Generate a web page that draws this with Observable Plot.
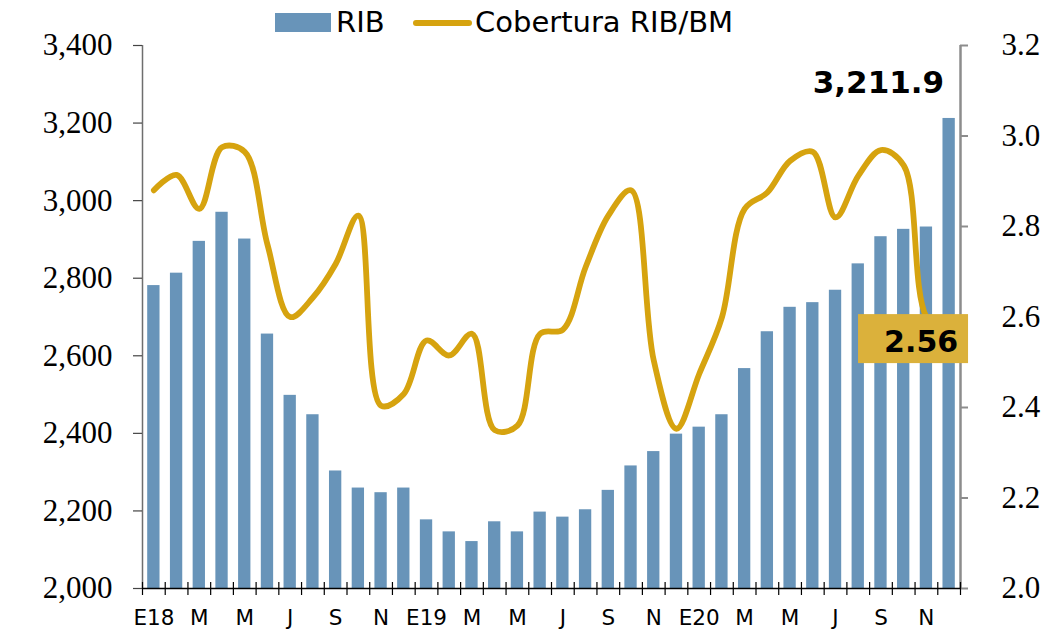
<!DOCTYPE html>
<html><head><meta charset="utf-8">
<script src="https://cdn.jsdelivr.net/npm/d3@7"></script>
<script src="https://cdn.jsdelivr.net/npm/@observablehq/plot@0.6"></script>
<style>
body{margin:0;background:#fff;}
#wrap{position:relative;width:1063px;height:631px;overflow:hidden;}
#legend{position:absolute;top:0;left:0;width:1063px;height:45px;font-family:"DejaVu Sans";font-size:29px;color:#000;}
.sw{position:absolute;}
.lt{position:absolute;top:5px;line-height:34px;white-space:nowrap;}
#chart text.serif, #chart .serif text{font-family:"Liberation Serif","DejaVu Serif","Times New Roman",serif !important;}
</style></head>
<body><div id="wrap"><div id="chart"></div>
<div id="legend">
 <div class="sw" style="left:275px;top:13px;width:56px;height:19px;background:#6894b9"></div>
 <div class="lt" style="left:336px">RIB</div>
 <div class="sw" style="left:413px;top:20px;width:59px;height:6px;border-radius:3px;background:#d6a30f"></div>
 <div class="lt" style="left:475px">Cobertura RIB/BM</div>
</div></div>
<script>
// Month labels (every second month)
const monthLabels = ["E18","M","M","J","S","N","E19","M","M","J","S","N","E20","M","M","J","S","N"];
// RIB (left axis)
const rib = [2781, 2813, 2895, 2970, 2901, 2656, 2498, 2448, 2303, 2259, 2247, 2259,
             2177, 2146, 2121, 2172, 2146, 2197, 2184, 2203, 2253, 2316, 2353, 2398,
             2416, 2448, 2567, 2662, 2725, 2737, 2769, 2837, 2907, 2926, 2932, 3211.9];
// Cobertura RIB/BM (right axis)
const cobertura = [2.88, 2.914, 2.839, 2.975, 2.965, 2.76, 2.60, 2.643, 2.717, 2.824, 2.404, 2.43,
                   2.548, 2.515, 2.563, 2.35, 2.36, 2.563, 2.572, 2.71, 2.824, 2.88, 2.504, 2.353,
                   2.474, 2.599, 2.839, 2.875, 2.945, 2.965, 2.82, 2.912, 2.969, 2.935, 2.60, 2.56];
const leftTicks = [2000, 2200, 2400, 2600, 2800, 3000, 3200, 3400];
const rightTicks = [2.0, 2.2, 2.4, 2.6, 2.8, 3.0, 3.2];

const yMin = 2000, yMax = 3400, rMin = 2.0, rMax = 3.2;
const toLeft = v => yMin + (v - rMin) * (yMax - yMin) / (rMax - rMin);

const data = rib.map((v, i) => ({i, rib: v, cob: cobertura[i], cobL: toLeft(cobertura[i])}));
const last = [data[data.length - 1]];
const n = data.length;
const xLab = monthLabels.map((t, k) => ({t, i: 2 * k}));

const sans = "DejaVu Sans";
const serif = "'Liberation Serif', 'DejaVu Serif', 'Times New Roman', serif";

const boxMark = (index, scales) => {
  const d = last[0];
  const cx = scales.x(d.i + 0.5), cy = scales.y(d.cobL);
  const r = document.createElementNS("http://www.w3.org/2000/svg", "rect");
  r.setAttribute("x", cx - 90.6); r.setAttribute("y", cy - 20.5);
  r.setAttribute("width", 110); r.setAttribute("height", 49);
  r.setAttribute("fill", "#dbb13b");
  return r;
};

const chart = Plot.plot({
  width: 1063, height: 631,
  marginLeft: 142, marginRight: 103, marginTop: 45, marginBottom: 43,
  style: {background: "white", overflow: "visible"},
  x: {type: "linear", domain: [0, n], axis: null},
  y: {domain: [yMin, yMax], axis: null},
  marks: [
    Plot.rect(data, {x1: "i", x2: d => d.i + 1, y1: () => yMin, y2: "rib",
                     insetLeft: 5.2, insetRight: 5.2, fill: "#6894b9"}),
    Plot.line(data, {x: d => d.i + 0.5, y: "cobL", stroke: "#d6a30f", strokeWidth: 5.8,
                     curve: "catmull-rom", strokeLinecap: "round", strokeLinejoin: "round"}),
    // left axis
    Plot.ruleX([0], {stroke: "#6e6e6e", strokeWidth: 1.5}),
    Plot.ruleY(leftTicks, {y: d => d, insetLeft: -9, insetRight: 818, stroke: "#444", strokeWidth: 1.2}),
    Plot.text(leftTicks, {y: d => d, text: d3.format(","), frameAnchor: "left", textAnchor: "end",
                          lineAnchor: "middle", dx: -30, fontFamily: serif, fontSize: 31, fill: "black",
                          className: "serif"}),
    // right axis
    Plot.ruleX([n], {stroke: "#8c8c8c", strokeWidth: 2.5}),
    Plot.ruleY(rightTicks, {y: toLeft, insetLeft: 818, insetRight: -8, stroke: "#8c8c8c", strokeWidth: 2}),
    Plot.text(rightTicks, {y: toLeft, text: d => d.toFixed(1), frameAnchor: "right", textAnchor: "start",
                           lineAnchor: "middle", dx: 41, fontFamily: serif, fontSize: 31, fill: "black",
                           className: "serif"}),
    // x axis
    Plot.ruleY([yMin], {stroke: "black", strokeWidth: 1.5}),
    Plot.ruleX(d3.range(0, n + 1), {x: d => d, insetTop: 537, insetBottom: -7, stroke: "black", strokeWidth: 1.2}),
    Plot.text(xLab, {x: d => d.i + 0.5, text: "t", frameAnchor: "bottom", lineAnchor: "top", dy: 21,
                     fontFamily: sans, fontSize: 21.5, fill: "black"}),
    // annotations
    boxMark,
    Plot.text(last, {x: d => d.i + 0.5, y: "cobL", text: d => d.cob.toFixed(2), textAnchor: "end",
                     lineAnchor: "middle", dx: 9, dy: 7.6, fontFamily: sans, fontWeight: "bold",
                     fontSize: 30, fill: "black"}),
    Plot.text(last, {x: d => d.i + 0.5, y: "rib", text: d => d3.format(",.1f")(d.rib), textAnchor: "end",
                     lineAnchor: "middle", dx: -5, dy: -35, fontFamily: sans, fontWeight: "bold",
                     fontSize: 31, fill: "black"})
  ]
});
document.getElementById("chart").appendChild(chart);
</script>
</body></html>
